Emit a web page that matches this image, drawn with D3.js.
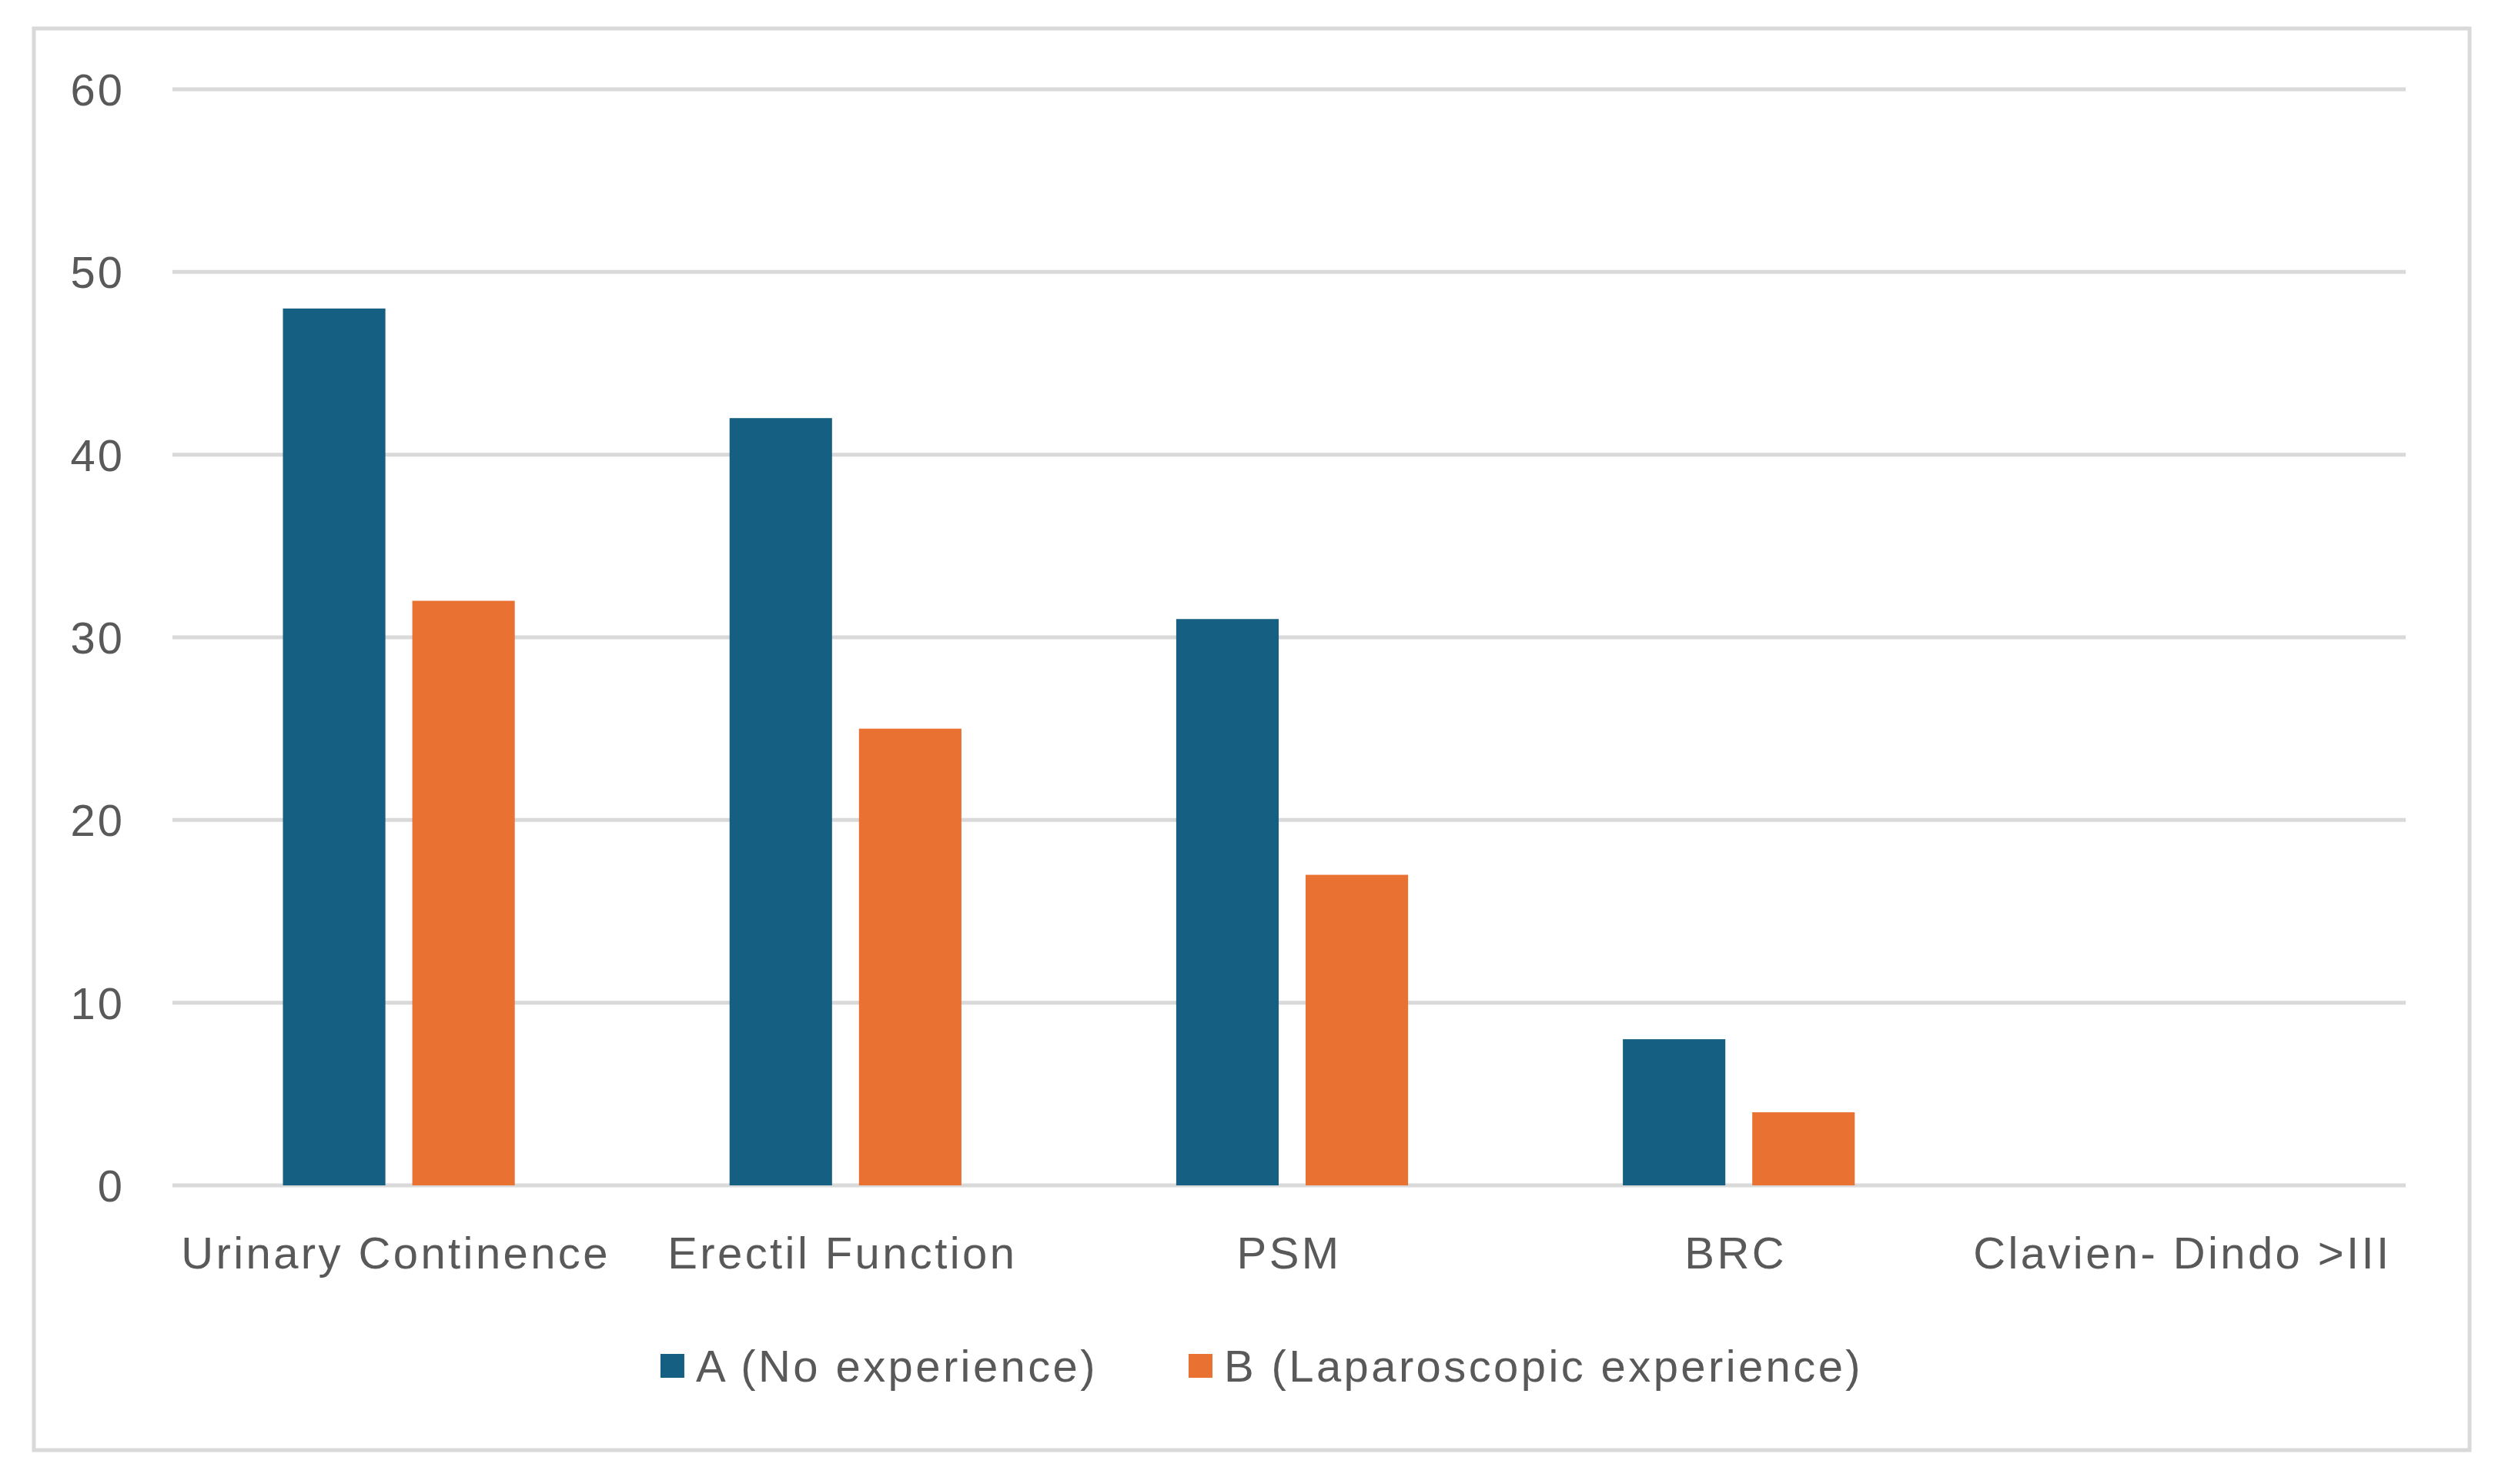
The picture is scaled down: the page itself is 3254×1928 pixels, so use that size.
<!DOCTYPE html>
<html>
<head>
<meta charset="utf-8">
<script src="https://cdn.jsdelivr.net/npm/d3@7"></script>
<style>
  html, body { margin: 0; padding: 0; background: #fff; }
  text { font-family: "Liberation Sans", Arial, sans-serif; fill: #595959; }
</style>
</head>
<body>
<div id="chart"></div>
<script>
const categories = ["Urinary Continence", "Erectil Function", "PSM", "BRC", "Clavien- Dindo >III"];
const seriesNames = ["A (No experience)", "B (Laparoscopic experience)"];
const seriesA = [48, 42, 31, 8, 0];
const seriesB = [32, 25, 17, 4, 0];
const yTicks = [0, 10, 20, 30, 40, 50, 60];
const colors = ["#156082", "#E97132"];

const W = 3254, H = 1928;
const plotLeft = 224, plotRight = 3125, plotTop = 116, plotBottom = 1540;

const svg = d3.select("#chart").append("svg")
  .attr("width", W)
  .attr("height", H);

// chart frame
svg.append("rect")
  .attr("x", 44).attr("y", 37)
  .attr("width", 3208 - 44).attr("height", 1884 - 37)
  .attr("fill", "#fff")
  .attr("stroke", "#d9d9d9")
  .attr("stroke-width", 5);

const x0 = d3.scaleBand().domain(categories).range([plotLeft, plotRight]);
const x1 = d3.scaleBand().domain(seriesNames).range([4, x0.bandwidth() + 4])
  .paddingInner(0.208).paddingOuter(0.83);
const y = d3.scaleLinear().domain([0, 60]).range([plotBottom, plotTop]);

// gridlines
svg.append("g").selectAll("line")
  .data(yTicks)
  .enter().append("line")
  .attr("x1", plotLeft).attr("x2", plotRight)
  .attr("y1", d => y(d)).attr("y2", d => y(d))
  .attr("stroke", "#d9d9d9")
  .attr("stroke-width", 5);

// y tick labels
svg.append("g").selectAll("text")
  .data(yTicks)
  .enter().append("text")
  .attr("x", 162)
  .attr("y", d => y(d))
  .attr("dy", "0.36em")
  .attr("text-anchor", "end")
  .style("font-size", "58px")
  .style("letter-spacing", "3px")
  .text(d => d);

// bars
const rows = categories.map((c, i) => ({cat: c, vals: [seriesA[i], seriesB[i]]}));
const groups = svg.append("g").selectAll("g")
  .data(rows)
  .enter().append("g")
  .attr("transform", d => `translate(${x0(d.cat)},0)`);

groups.selectAll("rect")
  .data(d => d.vals.map((v, j) => ({name: seriesNames[j], v: v, j: j})))
  .enter().append("rect")
  .attr("x", d => x1(d.name))
  .attr("y", d => y(d.v))
  .attr("width", x1.bandwidth())
  .attr("height", d => y(0) - y(d.v))
  .attr("fill", d => colors[d.j]);

// category labels
svg.append("g").selectAll("text")
  .data(categories)
  .enter().append("text")
  .attr("x", d => x0(d) + x0.bandwidth() / 2)
  .attr("y", 1648)
  .attr("text-anchor", "middle")
  .style("font-size", "58px")
  .style("letter-spacing", "3.4px")
  .text(d => d);

// legend
const legend = svg.append("g");
const items = legend.selectAll("g")
  .data(seriesNames)
  .enter().append("g");
items.append("rect")
  .attr("width", 31).attr("height", 31)
  .attr("y", 1774 - 15)
  .attr("fill", (d, i) => colors[i]);
items.append("text")
  .attr("x", 46)
  .attr("y", 1774)
  .attr("dy", "0.36em")
  .style("font-size", "58px")
  .style("letter-spacing", "3.4px")
  .text(d => d);

let offs = [];
let cur = 0;
const itemGap = 118;
items.each(function(d, i) {
  const w = 46 + this.querySelector("text").getComputedTextLength();
  offs.push(cur);
  cur += w + itemGap;
});
const total = cur - itemGap;
const startX = 1639 - total / 2;
items.attr("transform", (d, i) => `translate(${startX + offs[i]},0)`);
</script>
</body>
</html>
